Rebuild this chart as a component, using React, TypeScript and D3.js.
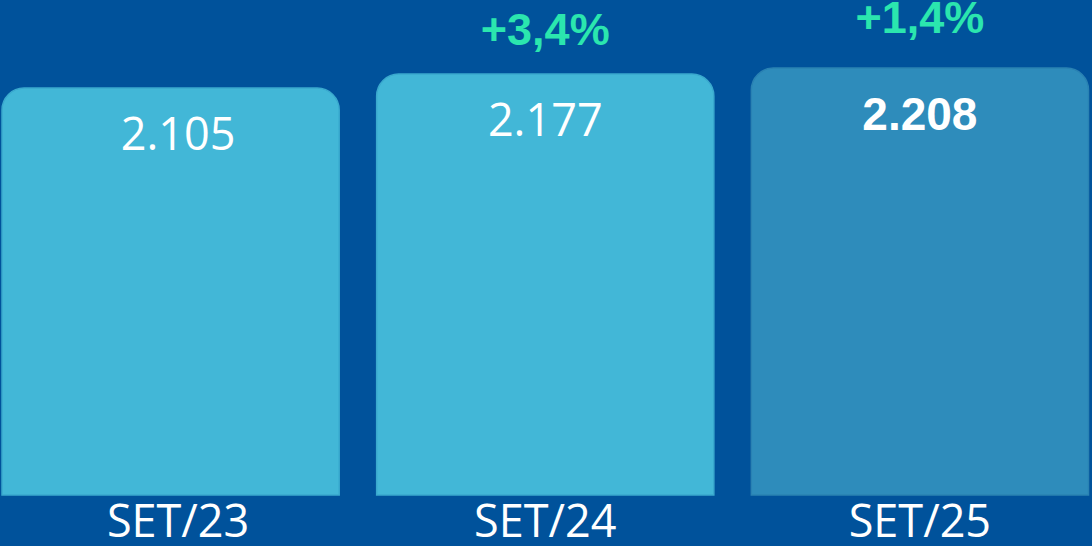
import React from "react";
import * as d3 from "d3";

const categories = ["SET/23", "SET/24", "SET/25"];
const values = [2105, 2177, 2208];
const valueLabels = ["2.105", "2.177", "2.208"];
const growthLabels = ["", "+3,4%", "+1,4%"];

const W = 1092;
const H = 546;
const BG = "#00529B";
const barFill = ["#42B7D7", "#42B7D7", "#2E8CBB"];
const barStroke = ["#3AA9CE", "#3AA9CE", "#2A82B3"];
const labelShift = [7.5, 0, 0];
const growthGap = [0, 29, 35];

function topRounded(x: number, y: number, w: number, h: number, r: number) {
  const p = d3.path();
  p.moveTo(x, y + h);
  p.lineTo(x, y + r);
  p.arcTo(x, y, x + r, y, r);
  p.lineTo(x + w - r, y);
  p.arcTo(x + w, y, x + w, y + r, r);
  p.lineTo(x + w, y + h);
  p.closePath();
  return p.toString();
}

export default function App() {
  const x = d3.scaleBand<string>().domain(categories).range([2, 1088.5]).paddingInner(0.1).paddingOuter(0);
  const y = d3.scaleLinear().domain([0, 2560]).range([495, 0]);
  const bw = x.bandwidth();
  return (
    <svg width={W} height={H} style={{ position: "absolute", left: 0, top: 0, display: "block" }}>
      <rect x={0} y={0} width={W} height={H} fill={BG} />
      {categories.map((c, i) => {
        const x0 = x(c)!;
        const top = y(values[i]);
        const cx = x0 + bw / 2 + labelShift[i];
        const isLast = i === categories.length - 1;
        return (
          <g key={c}>
            <path d={topRounded(x0, top, bw, y(0) - top, 22)} fill={barFill[i]} stroke={barStroke[i]} strokeWidth={1.5} />
            <text
              x={cx}
              y={top + 62}
              textAnchor="middle"
              fill="#FFFFFF"
              fontFamily={isLast ? "'Liberation Sans', Arial, sans-serif" : "'Open Sans', sans-serif"}
              fontWeight={isLast ? 700 : 400}
              fontSize={isLast ? 46 : 45}
            >
              {valueLabels[i]}
            </text>
            {growthLabels[i] && (
              <text
                x={cx}
                y={top - growthGap[i]}
                textAnchor="middle"
                fill="#2BE6AE"
                fontFamily="'Liberation Sans', Arial, sans-serif"
                fontWeight={700}
                fontSize={45}
              >
                {growthLabels[i]}
              </text>
            )}
            <text x={cx} y={537} textAnchor="middle" fill="#FFFFFF" fontFamily="'Open Sans', sans-serif" fontSize={45}>
              {c}
            </text>
          </g>
        );
      })}
    </svg>
  );
}
